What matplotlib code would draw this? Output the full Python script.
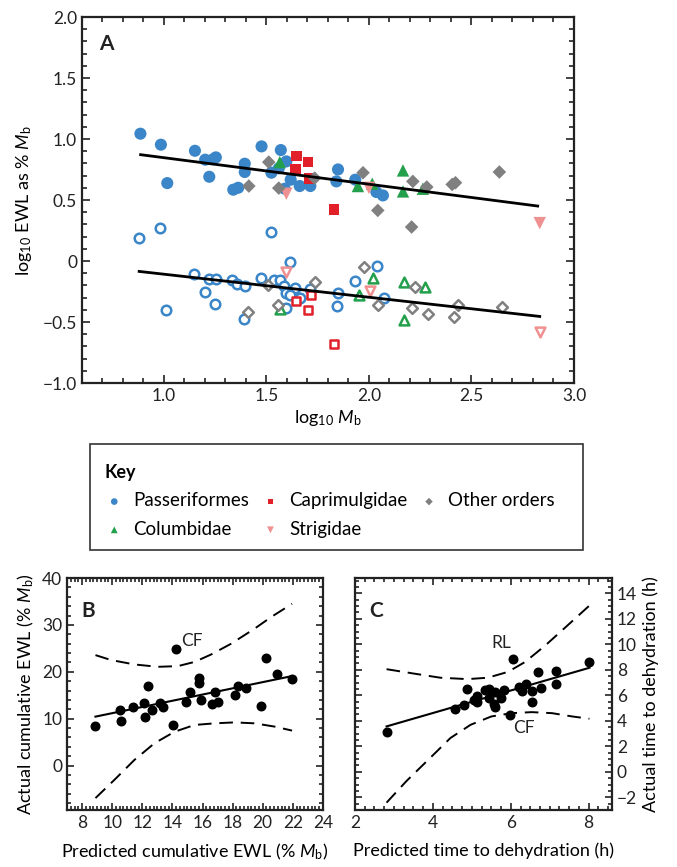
import matplotlib
matplotlib.use('Agg')
import matplotlib.pyplot as plt
from matplotlib.ticker import MultipleLocator, FixedLocator, FuncFormatter
from matplotlib.patches import Rectangle

plt.rcParams['font.family'] = ['Lato', 'DejaVu Sans']
plt.rcParams['mathtext.fontset'] = 'custom'
plt.rcParams['mathtext.rm'] = 'Lato'
plt.rcParams['mathtext.it'] = 'Lato:italic'
plt.rcParams['mathtext.bf'] = 'Lato:bold'

BLUE = '#3a86c8'
RED = '#e2202a'
GREEN = '#23a04b'
PINK = '#ef9190'
GRAY = '#808080'

# ---- panel A: filled = upper cloud, open = lower cloud
pass_fill_x = [0.885, 0.985, 1.016, 1.151, 1.201, 1.221, 1.253, 1.240, 1.338, 1.362, 1.394, 1.394,
               1.476, 1.524, 1.570, 1.597, 1.618, 1.589, 1.662, 1.714, 1.849, 1.841, 1.933, 2.036,
               2.068, 1.560]
pass_fill_y = [1.044, 0.954, 0.639, 0.904, 0.831, 0.691, 0.850, 0.835, 0.585, 0.601, 0.798, 0.730,
               0.940, 0.724, 0.910, 0.817, 0.667, 0.593, 0.615, 0.615, 0.751, 0.653, 0.667, 0.566,
               0.538, 0.760]
capr_fill_x = [1.646, 1.703, 1.641, 1.711, 1.830]
capr_fill_y = [0.861, 0.811, 0.751, 0.675, 0.421]
colu_fill_x = [1.565, 1.946, 2.016, 2.166, 2.166, 2.263]
colu_fill_y = [0.811, 0.615, 0.634, 0.743, 0.571, 0.593]
stri_fill_x = [1.597, 2.000, 2.833]
stri_fill_y = [0.552, 0.600, 0.311]
othr_fill_x = [1.511, 1.414, 1.560, 1.735, 1.971, 2.214, 2.282, 2.406, 2.422, 2.636, 2.043, 2.208]
othr_fill_y = [0.811, 0.615, 0.598, 0.680, 0.724, 0.653, 0.607, 0.628, 0.642, 0.730, 0.415, 0.279]

pass_open_x = [0.879, 0.979, 1.011, 1.147, 1.198, 1.218, 1.254, 1.247, 1.332, 1.355, 1.394, 1.391,
               1.475, 1.522, 1.535, 1.566, 1.584, 1.597, 1.617, 1.640, 1.617, 1.663, 1.597, 1.712,
               1.848, 1.843, 1.933, 2.039, 2.072]
pass_open_y = [0.191, 0.268, -0.399, -0.109, -0.254, -0.145, -0.145, -0.352, -0.156, -0.186, -0.205,
               -0.473, -0.137, 0.238, -0.156, -0.153, -0.205, -0.262, -0.008, -0.221, -0.276, -0.300,
               -0.385, -0.232, -0.262, -0.366, -0.164, -0.041, -0.303]
capr_open_x = [1.645, 1.717, 1.704, 1.830]
capr_open_y = [-0.328, -0.281, -0.404, -0.683]
colu_open_x = [1.565, 1.950, 2.018, 2.170, 2.273, 2.170]
colu_open_y = [-0.390, -0.281, -0.139, -0.172, -0.213, -0.486]
stri_open_x = [1.597, 2.005, 2.833]
stri_open_y = [-0.090, -0.246, -0.582]
othr_open_x = [1.412, 1.507, 1.556, 1.738, 1.977, 2.043, 2.208, 2.223, 2.290, 2.416, 2.432, 2.648]
othr_open_y = [-0.418, -0.199, -0.358, -0.172, -0.049, -0.363, -0.385, -0.216, -0.434, -0.462,
               -0.363, -0.380]

fit_fill_x = [0.886, 2.823]
fit_fill_y = [0.872, 0.451]
fit_open_x = [0.879, 2.833]
fit_open_y = [-0.085, -0.454]

# ---- panel B
b_pred = [8.89, 10.53, 10.59, 11.37, 12.10, 12.15, 12.37, 12.63, 13.17, 13.39, 14.05, 14.21, 14.90,
          15.16, 15.76, 15.76, 15.92, 16.60, 16.80, 17.02, 18.18, 18.38, 18.86, 19.90, 20.20, 20.97,
          21.95]
b_actual = [8.44, 11.77, 9.57, 12.48, 13.40, 10.43, 16.95, 11.84, 13.40, 12.55, 8.65, 24.82, 13.48,
            15.74, 18.72, 17.52, 13.90, 13.05, 15.74, 13.62, 15.04, 17.02, 16.60, 12.77, 22.84, 19.50,
            18.51]
b_fit_x = [8.89, 21.95]
b_fit_y = [10.43, 19.08]
b_up_x = [8.89, 9.93, 11.48, 13.03, 14.36, 15.47, 16.58, 17.91, 19.46, 20.57, 21.95]
b_up_y = [23.55, 22.5, 21.56, 21.06, 21.2, 22.1, 23.7, 26.0, 29.2, 31.7, 34.5]
b_lo_x = [8.89, 10.15, 11.48, 12.81, 14.14, 15.47, 16.80, 18.13, 19.46, 20.79, 21.95]
b_lo_y = [-6.95, -3.05, 1.2, 4.75, 7.2, 8.65, 9.0, 9.2, 9.0, 8.3, 7.45]

# ---- panel C
c_pred = [2.81, 4.57, 4.81, 4.87, 5.06, 5.12, 5.13, 5.35, 5.44, 5.44, 5.60, 5.58, 5.60, 5.76, 5.83,
          5.98, 6.07, 6.22, 6.30, 6.38, 6.54, 6.54, 6.70, 6.77, 7.17, 7.17, 8.02]
c_actual = [3.14, 4.91, 5.25, 6.52, 5.61, 5.95, 5.51, 6.39, 6.52, 5.77, 6.29, 5.30, 5.12, 5.77, 6.39,
            4.47, 8.81, 6.62, 6.36, 6.86, 6.36, 5.51, 7.79, 6.60, 7.92, 6.86, 8.62]
c_fit_x = [2.81, 8.02]
c_fit_y = [3.56, 8.16]
c_up_x = [2.81, 3.50, 4.19, 4.89, 5.41, 5.93, 6.37, 6.89, 7.41, 8.02]
c_up_y = [8.05, 7.71, 7.38, 7.27, 7.38, 7.84, 8.62, 9.92, 11.35, 13.04]
c_lo_x = [2.81, 3.32, 3.93, 4.45, 4.97, 5.50, 6.02, 6.54, 7.06, 7.58, 8.02]
c_lo_y = [-2.42, -0.73, 1.09, 2.65, 3.69, 4.34, 4.60, 4.68, 4.60, 4.34, 4.16]


def minus(s):
    return s.replace('-', '\u2212')


def box_ticks(ax):
    ax.tick_params(which='both', direction='in', top=True, right=True, width=1.2,
                   labelsize=12.5, colors='#222222')
    ax.tick_params(which='major', length=6)
    ax.tick_params(which='minor', length=3.5)
    for s in ax.spines.values():
        s.set_linewidth(1.6)
        s.set_color('#222222')


fig = plt.figure(figsize=(6.77, 8.67), dpi=100)

# ---------------- A
axA = fig.add_axes([0.1211, 0.5582, 0.7267, 0.4221])
groups = [
    (pass_fill_x, pass_fill_y, pass_open_x, pass_open_y, 'o', BLUE, 76, 'Passeriformes'),
    (colu_fill_x, colu_fill_y, colu_open_x, colu_open_y, '^', GREEN, 80, 'Columbidae'),
    (capr_fill_x, capr_fill_y, capr_open_x, capr_open_y, 's', RED, 58, 'Caprimulgidae'),
    (stri_fill_x, stri_fill_y, stri_open_x, stri_open_y, 'v', PINK, 80, 'Strigidae'),
    (othr_fill_x, othr_fill_y, othr_open_x, othr_open_y, 'D', GRAY, 48, 'Other orders'),
]
handles = []
for fx, fy, ox, oy, m, c, s, lab in groups:
    axA.scatter(ox, oy, s=s * 0.62, marker=m, facecolors='white', edgecolors=c, linewidths=1.8,
                zorder=2)
    h = axA.scatter(fx, fy, s=s, marker=m, color=c, edgecolors='none', zorder=3, label=lab)
    handles.append(h)
axA.plot(fit_fill_x, fit_fill_y, color='black', lw=2, zorder=4)
axA.plot(fit_open_x, fit_open_y, color='black', lw=2, zorder=4)
axA.set_xlim(0.6, 3.0)
axA.set_ylim(-1.0, 2.0)
axA.xaxis.set_major_locator(FixedLocator([1.0, 1.5, 2.0, 2.5, 3.0]))
axA.xaxis.set_minor_locator(MultipleLocator(0.1))
axA.yaxis.set_major_locator(MultipleLocator(0.5))
axA.yaxis.set_minor_locator(MultipleLocator(0.1))
axA.yaxis.set_major_formatter(FuncFormatter(
    lambda v, p: '0' if abs(v) < 1e-9 else minus(f'{v:.1f}')))
box_ticks(axA)
axA.set_xlabel(r'log$_{10}$ $\mathit{M}_{\mathrm{b}}$', fontsize=13, labelpad=3)
axA.set_ylabel(r'log$_{10}$ EWL as % $\mathit{M}_{\mathrm{b}}$', fontsize=13, labelpad=6)
axA.text(0.035, 0.955, 'A', transform=axA.transAxes, fontsize=15, fontweight='bold',
         va='top', ha='left', color='#222222')

# ---------------- key box
fig.patches.append(Rectangle((0.133, 0.366), 0.728, 0.122, transform=fig.transFigure,
                             fill=False, edgecolor='#333333', lw=1.2))
leg = fig.legend(handles, [g[7] for g in groups], ncol=3,
                 loc='upper left', bbox_to_anchor=(0.13, 0.484), frameon=False,
                 title='Key', alignment='left', title_fontproperties={'weight': 'bold', 'size': 13},
                 fontsize=13.5, markerscale=0.55, handletextpad=0.5, columnspacing=0.65,
                 labelspacing=0.6, handlelength=1.0)

# ---------------- B
axB = fig.add_axes([0.099, 0.0657, 0.378, 0.2676])
axB.plot(b_up_x, b_up_y, color='black', lw=1.4, dashes=(7, 4))
axB.plot(b_lo_x, b_lo_y, color='black', lw=1.4, dashes=(7, 4))
axB.plot(b_fit_x, b_fit_y, color='black', lw=1.5)
axB.scatter(b_pred, b_actual, s=38, color='black', zorder=3)
axB.set_xlim(7, 24)
axB.set_ylim(-9.5, 40)
axB.xaxis.set_major_locator(FixedLocator(range(8, 25, 2)))
axB.xaxis.set_minor_locator(MultipleLocator(0.25))
axB.yaxis.set_major_locator(FixedLocator([0, 10, 20, 30, 40]))
axB.yaxis.set_minor_locator(MultipleLocator(2))
box_ticks(axB)
axB.tick_params(which='major', length=5)
axB.tick_params(which='minor', length=3)
axB.set_xlabel(r'Predicted cumulative EWL (% $\mathit{M}_{\mathrm{b}}$)', fontsize=13, labelpad=8)
axB.set_ylabel(r'Actual cumulative EWL (% $\mathit{M}_{\mathrm{b}}$)', fontsize=13, labelpad=4)
axB.text(0.055, 0.9, 'B', transform=axB.transAxes, fontsize=15, fontweight='bold',
         va='top', ha='left', color='#222222')
axB.annotate('CF', (b_pred[11], b_actual[11]), xytext=(4, 2), textcoords='offset points',
             fontsize=12.5, color='#222222')

# ---------------- C
axC = fig.add_axes([0.5244, 0.0657, 0.3796, 0.2676])
axC.plot(c_up_x, c_up_y, color='black', lw=1.4, dashes=(7, 4))
axC.plot(c_lo_x, c_lo_y, color='black', lw=1.4, dashes=(7, 4))
axC.plot(c_fit_x, c_fit_y, color='black', lw=1.5)
axC.scatter(c_pred, c_actual, s=38, color='black', zorder=3)
axC.set_xlim(2, 8.6)
axC.set_ylim(-3, 15.2)
axC.xaxis.set_major_locator(FixedLocator([2, 4, 6, 8]))
axC.xaxis.set_minor_locator(MultipleLocator(0.25))
axC.yaxis.set_major_locator(FixedLocator(range(-2, 15, 2)))
axC.yaxis.set_minor_locator(MultipleLocator(0.5))
axC.yaxis.set_major_formatter(FuncFormatter(lambda v, p: minus(f'{v:g}')))
box_ticks(axC)
axC.tick_params(which='major', length=5)
axC.tick_params(which='minor', length=3)
axC.tick_params(axis='y', labelleft=False, labelright=True)
axC.yaxis.set_label_position('right')
axC.set_xlabel('Predicted time to dehydration (h)', fontsize=13, labelpad=8)
axC.set_ylabel('Actual time to dehydration (h)', fontsize=13, labelpad=4)
axC.text(0.055, 0.9, 'C', transform=axC.transAxes, fontsize=15, fontweight='bold',
         va='top', ha='left', color='#222222')
axC.annotate('RL', (c_pred[16], c_actual[16]), xytext=(-2, 6), textcoords='offset points',
             fontsize=12.5, color='#222222', ha='right', va='bottom')
axC.annotate('CF', (c_pred[15], c_actual[15]), xytext=(2, -4), textcoords='offset points',
             fontsize=12.5, color='#222222', ha='left', va='top')

fig.savefig('out.png', dpi=100)
